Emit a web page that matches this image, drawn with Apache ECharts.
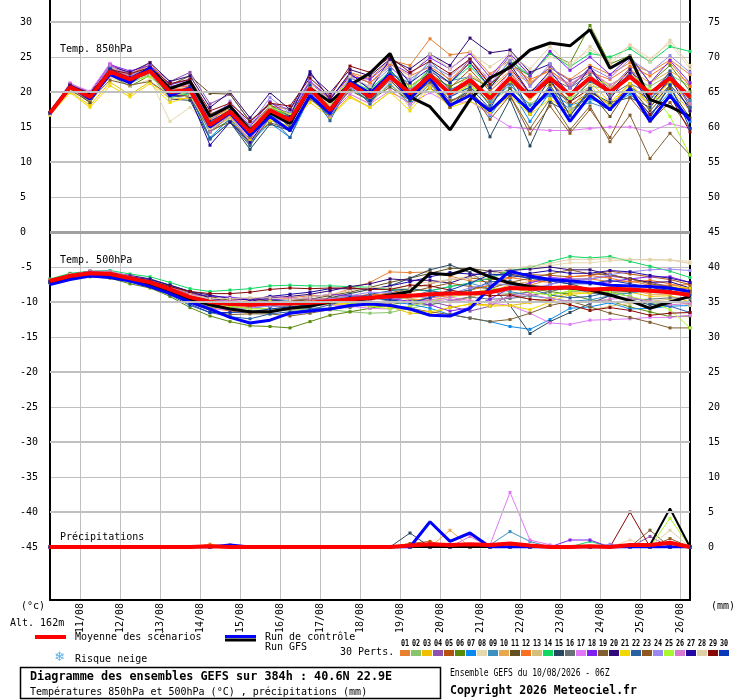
<!DOCTYPE html>
<html>
<head>
<meta charset="utf-8">
<title>Diagramme des ensembles GEFS</title>
<script src="https://cdn.jsdelivr.net/npm/echarts@6/dist/echarts.min.js"></script>
<style>
html, body { margin: 0; padding: 0; background: #fff; }
#chart { width: 740px; height: 700px; }
</style>
</head>
<body>
<div id="chart"></div>
<script>
// run du 10/08/2026 06Z, echeances toutes les 12h jusqu'a 384h
var leadHours = [0,12,24,36,48,60,72,84,96,108,120,132,144,156,168,180,192,204,216,228,240,252,264,276,288,300,312,324,336,348,360,372,384];

var memberColors = ['#e8802f','#88c46a','#f0c000','#8e50aa','#b4520e','#5a8a0a','#0a8af0','#e8d8b0','#3c90c0','#e8a850',
                    '#645020','#f87020','#d4c078','#10d860','#284860','#687078','#e078f8','#8020f0','#806030','#300878',
                    '#f0d800','#2860a0','#905820','#9888f0','#a8f830','#d878d0','#2008a0','#e0d0a8','#880808','#0838b8'];
var memberLabels = ['01','02','03','04','05','06','07','08','09','10','11','12','13','14','15',
                    '16','17','18','19','20','21','22','23','24','25','26','27','28','29','30'];

// Temp. 850hPa (degC)
var t850Mean = [17.0,20.7,19.3,22.9,21.8,23.0,20.0,20.3,15.3,17.2,14.3,17.4,16.0,20.5,17.4,21.2,19.3,22.2,19.8,22.4,19.8,21.7,19.1,22.0,19.3,22.0,19.6,22.0,20.0,22.2,19.8,22.0,19.3];
var t850Control = [17.0,20.8,19.0,22.5,21.3,23.5,19.5,20.5,15.0,17.0,13.8,16.5,14.5,19.5,17.0,21.5,19.8,22.5,19.0,22.0,18.1,19.5,17.3,20.0,17.3,20.3,15.8,19.5,17.5,20.5,15.8,19.5,15.9];
var t850Gfs = [17.0,20.7,19.5,22.8,21.5,23.4,20.5,21.5,16.5,18.0,14.5,17.0,15.5,20.5,18.6,21.0,22.7,25.5,19.3,17.9,14.6,18.9,22.0,23.5,26.0,27.0,26.6,28.9,23.4,25.0,18.9,17.9,16.5];
var t850Members = [
  [17.0,21.0,19.5,23.4,22.2,23.6,20.5,20.6,16.1,17.7,15.2,18.0,17.5,21.3,18.9,22.8,21.9,24.6,23.8,27.6,25.3,25.7,22.6,24.5,21.3,23.5,21.8,23.8,22.5,24.2,22.8,24.6,22.5],
  [17.0,20.4,18.8,22.7,21.2,22.6,19.2,19.8,15.0,16.6,14.5,17.0,16.5,20.0,17.7,20.4,18.8,21.0,19.0,21.9,18.3,20.7,18.6,20.5,18.3,20.0,19.1,20.8,20.5,22.2,20.8,22.5,20.8],
  [16.8,20.1,18.1,21.4,19.6,21.5,19.0,19.1,14.8,16.2,12.8,16.2,15.0,19.0,16.6,19.4,17.8,20.0,18.5,21.4,19.3,21.1,18.5,21.5,19.0,21.2,18.6,21.5,18.5,21.2,18.0,20.5,17.3],
  [17.0,21.2,19.9,23.9,22.6,23.8,21.5,22.8,18.3,19.7,15.8,18.4,17.5,21.5,19.0,22.4,21.3,23.7,20.8,22.9,21.3,24.7,21.6,25.2,21.1,23.5,21.6,23.0,20.5,23.4,19.8,22.8,18.8],
  [17.1,20.9,19.1,23.2,21.8,23.2,20.0,20.0,15.8,17.2,13.8,17.1,15.2,20.8,16.9,21.7,20.1,22.7,20.8,22.7,20.6,23.2,20.1,22.8,19.3,21.5,18.1,20.0,18.2,20.7,19.0,21.5,19.3],
  [17.0,20.5,18.5,22.4,20.8,22.4,19.5,19.3,14.3,16.0,12.5,16.4,14.5,19.7,16.4,20.7,19.8,22.5,19.3,22.4,20.8,22.2,20.6,24.0,22.3,25.5,24.1,29.5,24.0,25.2,21.3,23.8,20.1],
  [17.0,20.7,19.0,23.1,21.3,23.0,19.5,19.5,13.5,16.2,12.8,15.6,13.5,19.3,16.4,20.7,18.5,21.2,18.3,21.2,17.8,20.2,16.6,20.5,15.8,20.0,18.1,19.0,18.0,19.7,16.8,20.0,15.8],
  [16.7,20.2,18.8,22.1,20.8,21.8,15.8,17.8,14.8,16.2,13.8,16.8,16.0,20.0,17.9,22.0,20.8,24.0,21.8,23.9,22.3,24.0,22.1,24.8,22.8,25.0,24.1,26.0,24.5,26.7,24.8,27.0,23.3],
  [17.0,20.9,19.3,22.6,22.1,22.8,20.2,19.8,14.3,16.6,14.0,16.6,15.4,20.9,17.6,22.2,20.5,22.7,21.3,24.4,21.6,22.2,18.6,21.0,18.1,19.5,17.6,18.5,17.5,20.7,18.8,22.5,18.8],
  [17.0,21.1,19.6,23.5,22.3,23.9,20.6,21.1,15.5,17.7,14.8,17.6,16.8,21.0,18.4,21.4,19.3,21.7,18.8,21.6,19.8,22.5,20.6,23.0,21.3,23.2,20.6,23.5,20.5,23.2,21.3,23.0,21.3],
  [17.0,20.4,18.5,22.6,21.3,23.0,21.0,22.3,19.8,19.7,15.8,18.2,16.5,20.0,17.4,20.2,18.8,20.7,18.8,20.6,18.6,20.2,17.1,20.5,16.8,21.0,16.6,20.0,16.5,20.7,17.3,20.5,16.3],
  [17.1,21.0,19.7,23.1,22.4,24.2,20.8,20.8,15.8,18.0,14.6,17.9,16.2,20.5,18.0,22.7,21.3,24.0,22.3,23.6,21.8,24.2,21.1,23.8,21.8,23.0,21.1,22.8,21.8,23.7,22.3,24.2,20.8],
  [16.9,20.5,19.5,22.4,22.0,22.7,19.5,19.8,15.3,16.7,14.8,17.4,15.5,19.5,16.9,19.7,18.3,21.4,17.8,20.9,19.3,21.5,18.1,22.5,19.3,23.0,17.6,21.0,17.5,20.2,18.3,21.0,17.8],
  [17.0,20.9,19.0,22.9,21.5,22.5,19.2,19.8,14.3,16.7,14.3,17.7,16.5,20.5,17.9,21.5,20.3,23.0,20.3,23.4,21.3,23.7,20.6,24.5,22.3,25.5,23.6,25.5,25.0,26.2,24.3,26.5,25.8],
  [17.0,20.7,19.6,22.5,21.8,22.5,19.0,18.8,13.3,15.7,11.8,15.4,14.5,19.5,16.6,21.2,18.8,21.7,18.8,21.9,18.0,20.5,13.6,19.0,12.3,18.5,17.1,20.0,18.5,19.2,17.8,21.0,17.8],
  [17.0,20.8,19.3,23.2,21.6,23.4,20.3,20.3,14.8,17.2,15.1,17.9,17.0,21.0,17.4,21.7,19.6,22.2,20.3,22.1,19.8,21.2,19.6,21.2,20.1,22.0,20.6,22.5,19.5,21.2,19.8,21.5,19.8],
  [17.0,21.2,20.1,24.1,22.3,23.3,20.5,21.1,14.8,16.4,13.3,16.9,16.0,19.5,16.9,19.7,18.3,20.2,18.3,19.9,18.3,18.7,16.8,15.0,14.7,14.5,14.5,14.8,15.0,15.0,14.3,15.5,14.8],
  [17.0,21.0,19.8,23.9,23.0,23.8,21.0,21.8,16.8,18.2,15.1,18.6,16.5,21.5,19.2,22.2,21.8,24.2,22.6,24.9,23.3,25.5,22.1,25.5,22.3,25.8,23.1,25.0,22.5,25.0,21.3,24.5,21.3],
  [17.0,20.2,18.8,21.7,21.0,21.5,19.5,19.5,14.5,15.7,13.3,15.6,14.8,19.0,16.9,20.2,19.8,22.2,20.3,21.9,18.8,19.7,17.6,19.5,14.8,19.0,14.6,18.0,12.9,16.7,10.5,14.1,11.0],
  [17.0,21.1,19.8,23.7,22.8,24.2,21.5,22.3,17.8,20.0,16.3,19.9,17.5,22.5,19.9,23.2,22.3,24.7,23.3,25.4,23.8,27.7,25.6,26.0,22.8,24.0,20.6,23.5,20.0,23.2,19.3,22.5,18.3],
  [16.7,19.9,17.8,20.9,19.3,21.2,18.5,19.3,14.8,16.4,13.1,15.9,15.2,18.5,16.4,19.2,17.8,20.0,17.3,20.6,17.8,18.7,17.1,19.5,16.8,19.0,17.1,20.5,18.0,21.2,18.3,21.5,18.3],
  [17.0,20.9,19.7,23.4,22.0,23.6,20.0,19.8,13.3,15.7,12.3,16.4,13.5,20.0,15.9,21.2,18.3,22.7,19.3,23.4,20.3,21.7,18.1,21.5,17.3,20.5,18.6,21.5,20.0,22.7,18.8,23.0,17.8],
  [17.0,20.7,19.0,22.9,21.5,22.8,20.5,21.3,16.8,18.0,14.8,17.4,16.3,20.0,17.7,20.9,19.8,22.2,19.3,21.4,17.8,20.2,16.1,19.5,14.0,18.0,14.1,17.5,13.5,19.2,15.8,18.5,14.8],
  [17.0,21.2,19.6,23.7,22.4,23.4,20.8,21.3,15.8,18.7,15.3,19.2,17.0,21.7,18.4,22.0,20.8,23.4,21.8,23.9,22.3,24.7,21.1,24.5,20.8,24.0,20.6,23.5,22.0,24.7,22.8,25.2,22.8],
  [17.0,20.5,19.3,22.4,21.6,22.2,19.5,20.0,15.1,17.7,14.3,17.9,16.8,20.5,18.4,21.7,20.1,22.2,20.8,22.9,19.8,20.7,19.6,21.5,19.3,22.5,19.1,22.0,21.0,22.7,20.3,16.5,11.0],
  [17.0,21.3,19.7,23.9,22.1,23.5,20.2,20.3,14.3,16.7,12.8,16.4,15.5,20.2,16.6,20.7,19.3,21.7,20.3,22.4,19.3,22.2,19.1,23.0,19.8,22.5,21.1,23.0,21.0,22.7,19.3,22.0,18.3],
  [17.0,21.0,19.8,23.1,22.1,23.5,19.5,19.3,12.4,15.7,12.8,16.9,16.5,22.9,18.9,22.7,20.3,24.7,21.3,23.4,21.3,24.2,20.6,24.0,19.8,23.0,19.6,23.5,19.0,22.7,18.3,22.0,17.3],
  [16.8,20.3,19.0,22.3,21.6,22.5,19.0,19.5,14.8,17.2,13.8,17.7,15.5,21.0,18.2,22.2,20.8,24.2,22.3,25.4,23.3,25.7,23.6,25.5,23.3,26.5,23.6,26.5,24.0,26.7,24.3,27.4,23.8],
  [17.0,20.9,19.8,23.2,22.6,23.5,21.2,21.8,17.3,18.4,15.8,18.4,18.0,22.0,19.4,23.7,22.8,25.0,22.8,24.4,22.6,24.7,21.1,23.5,19.8,21.5,18.6,20.5,17.5,20.2,16.8,19.5,14.3],
  [17.0,20.8,19.1,23.3,21.8,23.3,19.7,20.8,15.8,17.4,13.8,17.4,15.0,21.0,16.9,21.7,18.8,23.2,19.8,22.9,19.3,20.7,17.6,22.5,17.3,22.0,16.6,20.5,17.5,20.2,16.3,21.0,14.8]
];

// Temp. 500hPa (degC)
var t500Mean = [-7.0,-6.3,-5.9,-6.0,-6.6,-7.2,-8.2,-9.3,-10.0,-10.3,-10.4,-10.2,-10.2,-10.1,-9.9,-9.6,-9.4,-9.2,-9.1,-8.9,-8.8,-8.8,-8.6,-8.0,-8.1,-8.0,-7.9,-8.2,-8.1,-8.2,-8.4,-8.6,-9.0];
var t500Control = [-7.5,-6.8,-6.3,-6.5,-7.0,-7.8,-8.8,-10.0,-11.0,-12.2,-13.0,-12.6,-11.6,-11.3,-11.0,-10.5,-10.3,-10.5,-11.0,-11.9,-12.0,-10.9,-8.0,-5.6,-6.3,-6.8,-7.0,-7.2,-7.6,-7.7,-7.8,-8.0,-8.5];
var t500Gfs = [-7.2,-6.5,-6.0,-6.2,-6.8,-7.5,-8.6,-9.6,-10.4,-11.0,-11.4,-11.4,-10.9,-10.6,-10.0,-9.8,-9.5,-9.0,-8.5,-5.9,-6.1,-5.2,-6.4,-7.3,-7.8,-8.0,-8.0,-8.3,-9.0,-9.8,-10.9,-10.0,-9.2];
var t500Members = [
  [-6.8,-6.2,-5.9,-5.8,-6.3,-7.0,-7.8,-8.8,-9.7,-9.7,-9.6,-9.7,-9.4,-9.1,-9.1,-8.1,-7.2,-5.7,-5.8,-5.7,-6.3,-7.0,-7.1,-7.2,-7.6,-6.8,-6.9,-6.7,-7.1,-7.0,-7.6,-7.6,-7.5],
  [-7.2,-6.6,-6.1,-6.4,-6.9,-7.7,-8.8,-9.7,-10.8,-10.8,-10.7,-11.0,-11.2,-11.0,-11.1,-11.4,-11.6,-11.5,-10.9,-10.4,-9.8,-9.3,-8.6,-8.8,-8.6,-9.0,-8.5,-8.4,-8.9,-8.7,-8.2,-8.9,-8.5],
  [-7.0,-6.1,-5.6,-5.9,-6.4,-6.8,-7.7,-9.0,-9.4,-9.8,-10.2,-10.2,-10.5,-10.1,-10.4,-10.4,-10.6,-10.7,-11.6,-11.7,-10.8,-10.3,-10.4,-10.5,-10.1,-9.5,-8.7,-8.7,-8.1,-8.6,-9.2,-9.1,-10.0],
  [-6.9,-6.3,-6.1,-6.0,-6.5,-7.4,-8.5,-9.8,-10.3,-10.9,-10.8,-10.2,-9.9,-9.6,-9.7,-9.6,-8.9,-8.9,-9.6,-9.9,-10.6,-11.3,-10.6,-9.0,-8.6,-7.5,-6.7,-6.7,-6.3,-6.7,-7.2,-7.8,-8.5],
  [-7.1,-6.2,-5.7,-6.0,-6.8,-7.2,-8.0,-9.3,-9.7,-10.1,-9.9,-9.8,-9.6,-9.8,-9.4,-9.2,-9.2,-8.7,-8.1,-7.4,-6.8,-6.6,-6.8,-6.5,-6.1,-6.2,-6.4,-6.2,-5.6,-6.0,-6.4,-6.8,-7.5],
  [-7.3,-6.7,-6.4,-6.6,-7.4,-8.0,-9.2,-10.8,-12.0,-12.8,-13.4,-13.5,-13.7,-12.8,-11.9,-11.4,-10.9,-10.4,-9.9,-9.4,-8.8,-8.3,-7.6,-7.5,-8.1,-8.5,-8.9,-9.7,-9.9,-10.7,-11.4,-12.1,-12.0],
  [-7.0,-6.4,-5.9,-6.2,-7.0,-7.8,-8.7,-9.6,-10.6,-11.1,-10.9,-10.5,-10.8,-10.9,-10.9,-10.4,-9.9,-10.0,-10.3,-10.9,-11.8,-12.3,-12.8,-13.5,-13.9,-12.5,-10.9,-10.7,-10.1,-11.0,-10.9,-10.6,-10.5],
  [-6.8,-6.0,-5.8,-5.7,-6.4,-6.8,-7.9,-8.7,-9.5,-9.5,-9.4,-9.4,-9.7,-9.9,-9.4,-8.8,-8.2,-8.2,-7.6,-7.1,-6.8,-6.3,-6.4,-5.5,-5.1,-4.8,-4.4,-4.4,-4.1,-4.0,-3.9,-4.0,-4.2],
  [-7.0,-6.1,-5.9,-5.8,-6.6,-7.5,-8.4,-9.1,-9.5,-10.0,-10.4,-9.7,-9.9,-9.5,-9.7,-9.1,-9.4,-9.7,-9.3,-8.4,-7.8,-7.3,-8.1,-8.5,-9.1,-9.5,-9.9,-9.7,-9.1,-8.7,-8.4,-8.1,-8.8],
  [-6.9,-6.3,-5.8,-6.1,-6.6,-7.0,-8.2,-9.5,-10.0,-10.0,-9.8,-9.9,-10.2,-10.4,-10.4,-9.8,-9.1,-9.2,-9.6,-9.7,-10.0,-9.3,-8.6,-7.5,-7.1,-6.7,-7.1,-7.2,-7.6,-8.2,-8.9,-8.9,-8.8],
  [-7.2,-6.5,-6.2,-6.2,-6.6,-7.0,-7.8,-8.7,-9.2,-9.8,-10.1,-10.2,-10.0,-9.6,-9.1,-8.6,-7.9,-7.2,-6.6,-5.9,-5.2,-5.2,-5.6,-6.0,-6.6,-7.0,-7.4,-8.2,-8.6,-8.5,-8.4,-8.1,-8.0],
  [-7.0,-6.2,-5.7,-5.7,-6.5,-7.2,-8.4,-9.8,-10.8,-11.3,-11.6,-11.0,-10.7,-10.3,-9.9,-9.3,-8.9,-9.0,-9.1,-9.4,-9.1,-8.3,-7.6,-6.5,-6.9,-7.2,-6.4,-6.2,-6.6,-7.2,-6.9,-7.4,-8.2],
  [-7.1,-6.5,-5.9,-5.9,-6.4,-7.1,-8.2,-9.1,-10.0,-10.5,-10.9,-11.0,-11.2,-10.7,-10.2,-10.1,-10.2,-10.2,-9.6,-8.9,-8.3,-8.8,-9.1,-9.0,-9.6,-10.0,-10.4,-11.2,-10.6,-10.2,-9.9,-9.6,-10.5],
  [-6.7,-5.9,-5.6,-5.5,-6.0,-6.4,-7.2,-8.1,-8.5,-8.3,-8.1,-7.7,-7.6,-7.7,-7.7,-7.8,-7.9,-8.2,-8.3,-8.4,-7.8,-7.3,-6.6,-5.5,-5.1,-4.2,-3.5,-3.7,-3.5,-4.2,-4.9,-5.6,-6.5],
  [-7.0,-6.4,-6.1,-6.0,-6.7,-7.2,-8.0,-9.3,-10.3,-10.3,-10.1,-9.7,-10.0,-10.1,-9.4,-8.8,-8.2,-7.7,-6.6,-5.4,-4.7,-5.8,-7.6,-10.5,-14.5,-12.8,-11.5,-10.2,-9.1,-9.7,-10.4,-10.1,-10.0],
  [-6.9,-6.1,-5.8,-6.0,-6.7,-7.1,-7.9,-9.1,-9.5,-10.0,-10.4,-10.5,-10.7,-10.9,-10.9,-10.8,-10.2,-9.7,-10.1,-10.4,-9.8,-9.3,-9.6,-9.5,-9.1,-8.5,-7.9,-8.7,-9.1,-9.7,-9.6,-9.4,-9.5],
  [-6.8,-6.3,-6.0,-6.3,-6.8,-7.6,-8.7,-10.1,-11.0,-11.1,-10.9,-10.4,-10.2,-10.4,-10.4,-10.6,-10.9,-11.0,-10.6,-9.9,-9.6,-10.0,-10.1,-10.5,-11.6,-13.0,-13.2,-12.6,-12.5,-12.4,-12.2,-12.2,-11.9],
  [-7.1,-6.3,-5.8,-5.8,-6.6,-7.0,-8.1,-8.9,-9.2,-9.3,-9.6,-9.6,-9.7,-9.3,-8.9,-9.1,-9.2,-9.5,-9.9,-10.4,-11.3,-10.8,-9.6,-8.0,-7.3,-6.5,-6.7,-7.4,-7.1,-6.7,-6.4,-6.4,-7.2],
  [-7.0,-6.2,-5.7,-5.9,-6.6,-7.4,-8.7,-10.1,-11.2,-11.8,-11.7,-11.7,-12.0,-11.6,-11.1,-10.6,-10.2,-10.4,-10.9,-11.4,-11.8,-12.3,-12.8,-12.5,-11.6,-10.5,-9.9,-10.7,-11.6,-12.2,-12.9,-13.7,-13.7],
  [-6.9,-6.1,-5.6,-5.8,-6.2,-6.7,-7.6,-8.5,-9.4,-10.0,-9.9,-9.4,-9.2,-8.9,-8.4,-7.8,-7.4,-6.7,-6.9,-6.9,-7.3,-6.3,-5.6,-5.5,-5.3,-5.0,-5.4,-5.4,-6.1,-6.7,-7.2,-7.1,-8.0],
  [-7.0,-6.5,-6.2,-6.2,-6.7,-7.2,-8.4,-9.6,-10.5,-10.6,-10.4,-9.9,-10.2,-10.3,-10.3,-10.2,-10.4,-10.7,-11.1,-11.4,-10.8,-10.3,-10.6,-10.5,-11.1,-10.0,-8.9,-8.7,-8.1,-7.7,-7.9,-7.8,-8.0],
  [-7.2,-6.6,-6.1,-6.1,-6.9,-7.7,-9.0,-10.5,-11.5,-12.1,-12.4,-11.7,-11.4,-11.1,-10.4,-9.6,-8.9,-8.4,-8.1,-8.4,-8.8,-8.3,-7.1,-7.0,-8.1,-9.0,-9.4,-9.2,-8.6,-9.2,-10.2,-10.6,-11.5],
  [-6.8,-6.0,-5.7,-6.0,-6.5,-7.2,-8.0,-8.9,-9.8,-10.3,-10.6,-10.2,-9.9,-9.6,-9.7,-9.6,-9.7,-9.2,-8.6,-7.9,-7.3,-7.8,-8.1,-7.2,-6.6,-6.0,-5.4,-6.0,-6.1,-6.7,-7.4,-7.8,-8.5],
  [-7.0,-6.3,-6.0,-5.9,-6.4,-6.9,-8.2,-9.5,-10.0,-10.1,-10.4,-10.7,-10.5,-10.1,-9.6,-9.1,-8.6,-8.7,-9.1,-9.4,-8.8,-8.0,-7.4,-7.5,-8.1,-7.5,-6.9,-6.7,-6.1,-5.7,-5.4,-5.3,-5.5],
  [-6.9,-6.3,-5.8,-5.8,-6.6,-7.3,-8.5,-9.5,-10.0,-10.6,-11.0,-11.0,-10.7,-10.3,-9.9,-10.1,-10.6,-11.0,-10.6,-9.9,-9.3,-8.8,-8.1,-8.0,-8.6,-9.0,-8.4,-8.2,-8.6,-9.2,-9.9,-11.1,-13.7],
  [-7.0,-6.1,-5.6,-5.6,-6.3,-7.1,-7.9,-8.8,-9.7,-9.8,-9.6,-9.2,-9.4,-9.6,-9.6,-9.6,-9.9,-10.0,-10.1,-9.7,-9.3,-9.8,-10.1,-9.2,-8.9,-9.5,-9.9,-10.0,-9.6,-9.4,-9.9,-10.4,-10.2],
  [-7.1,-6.5,-6.0,-6.0,-6.4,-6.8,-7.6,-8.5,-9.0,-9.5,-9.7,-9.2,-8.9,-8.6,-8.1,-8.1,-8.2,-7.7,-7.1,-6.4,-5.8,-6.0,-6.1,-6.0,-5.9,-5.5,-5.9,-5.9,-5.5,-5.7,-6.2,-6.6,-7.2],
  [-6.9,-6.1,-5.8,-6.0,-6.8,-7.3,-8.1,-9.0,-9.5,-9.5,-9.4,-9.4,-9.7,-9.3,-8.9,-8.4,-7.9,-8.0,-8.1,-7.4,-6.8,-6.6,-6.1,-5.2,-4.9,-4.5,-3.9,-3.9,-3.8,-3.9,-4.0,-4.0,-4.5],
  [-7.0,-6.2,-5.9,-5.9,-6.6,-7.0,-7.8,-8.5,-8.8,-8.8,-8.6,-8.2,-8.0,-8.1,-8.0,-8.0,-8.2,-8.2,-7.6,-7.7,-8.3,-8.8,-9.1,-9.0,-9.6,-9.8,-10.4,-11.2,-10.8,-11.2,-11.9,-11.6,-11.5],
  [-7.1,-6.3,-5.8,-6.0,-6.8,-7.5,-8.8,-10.3,-11.5,-11.5,-11.4,-11.0,-10.7,-10.4,-9.9,-9.3,-9.4,-9.7,-10.1,-9.4,-8.3,-7.3,-6.1,-6.2,-6.6,-7.0,-7.4,-7.4,-6.9,-7.4,-7.9,-8.4,-9.0]
];

// Precipitations (mm)
var precipMean = [0,0,0,0,0,0,0,0,0.1,0,0, 0,0,0,0,0,0,0,0.2,0.4,0.3,0.4, 0.3,0.5,0.2,0,0,0.1,0,0.3,0.3,0.6,0];
var precipControl = [0,0,0,0,0,0,0,0,0,0.3,0, 0,0,0,0,0,0,0,0,3.6,0.8,2.0, 0,0,0,0,0,0,0,0,0,0,0];
var precipGfs = [0,0,0,0,0,0,0,0,0,0,0, 0,0,0,0,0,0,0,0,0,0,0, 0,0,0,0,0,0,0,0,0.3,5.5,0];
var precipMembers = [
  [0,0,0,0,0,0,0,0,0.4,0,0, 0,0,0,0,0,0,0,0,0,0,0, 0,0,0,0,0,0,0,0,0,0,0],
  [0,0,0,0,0,0,0,0,0,0,0, 0,0,0,0,0,0,0,0,0,0,0, 0,0,0,0,0,0,0,0,0,0,0],
  [0,0,0,0,0,0,0,0,0,0,0, 0,0,0,0,0,0,0,0,0,0,0, 0,0,0,0,0,0,0,0,0,0,0],
  [0,0,0,0,0,0,0,0,0,0,0, 0,0,0,0,0,0,0,0,0,0,0, 0,0,0,0,0,0,0,0,1.5,0,0],
  [0,0,0,0,0,0,0,0,0,0,0, 0,0,0,0,0,0,0,0.5,0.8,0,0, 0,0,0,0,0,0,0,0,0,0,0],
  [0,0,0,0,0,0,0,0,0,0,0, 0,0,0,0,0,0,0,0,0,0,0, 0,0,0,0,0,0,0,0,0,0,0],
  [0,0,0,0,0,0,0,0,0,0,0, 0,0,0,0,0,0,0,0,0,0,0, 0,0,0,0,0,0,0,0,0,0,0],
  [0,0,0,0,0,0,0,0,0,0,0, 0,0,0,0,0,0,0,0,0,0,0, 0,0,0,0,0,0,0,1.0,0,0,0],
  [0,0,0,0,0,0,0,0,0,0,0, 0,0,0,0,0,0,0,0,0,0,0, 0.3,2.2,0.8,0,0,0,0,0,0,0,0],
  [0,0,0,0,0,0,0,0,0,0,0, 0,0,0,0,0,0,0,0,0,2.4,0, 0,0,0,0,0,0,0,0,0,0,0],
  [0,0,0,0,0,0,0,0,0,0,0, 0,0,0,0,0,0,0,0,0,0,0, 0,0,0,0,0,0,0,0,0,0,0],
  [0,0,0,0,0,0,0,0,0,0.3,0, 0,0,0,0,0,0,0,0,0,0,0, 0,0,0,0,0,0,0,0,0,0,0],
  [0,0,0,0,0,0,0,0,0,0,0, 0,0,0,0,0,0,0,0,0,0,0, 0,0,0,0,0,0,0,0,0,0,0],
  [0,0,0,0,0,0,0,0,0,0,0, 0,0,0,0,0,0,0,0,0,0,0, 0,0,0,0,0,0.8,0,0,0,0,0],
  [0,0,0,0,0,0,0,0,0,0,0, 0,0,0,0,0,0,0,2.0,0,0,0, 0,0,0,0,0,0,0,0,0,0,0],
  [0,0,0,0,0,0,0,0,0,0,0, 0,0,0,0,0,0,0,0,0,0,0, 0,0,0,0,0,0,0,0,0,0,0],
  [0,0,0,0,0,0,0,0,0,0,0, 0,0,0,0,0,0,0,0,0,0,0, 0.3,7.8,1.0,0.3,0,0,0,0,0,0,0],
  [0,0,0,0,0,0,0,0,0,0,0, 0,0,0,0,0,0,0,0,0,0,0, 0,0,0,0,1.0,1.0,0,0,0,0,0],
  [0,0,0,0,0,0,0,0,0,0,0, 0,0,0,0,0,0,0,0,0,0,0, 0,0,0,0,0,0,0,0,2.4,0,0],
  [0,0,0,0,0,0,0,0,0,0,0, 0,0,0,0,0,0,0,0,0,0,0, 0,0,0,0,0,0,0,0,0,0,0],
  [0,0,0,0,0,0,0,0,0,0,0, 0,0,0,0,0,0,0,0,0,0,0, 0,0,0,0,0,0,0,0,0,0,0],
  [0,0,0,0,0,0,0,0,0,0,0, 0,0,0,0,0,0,0,0,0.4,0,0, 0,0,0,0,0,0,0,0,0,0,0],
  [0,0,0,0,0,0,0,0,0,0,0, 0,0,0,0,0,0,0,0,0,0,0, 0,0,0,0,0,0,0,0,0,1.2,0],
  [0,0,0,0,0,0,0,0,0,0,0, 0,0,0,0,0,0,0,0,0,0,0, 0,0,0,0,0,0,0.4,0,0,0,0],
  [0,0,0,0,0,0,0,0,0,0,0, 0,0,0,0,0,0,0,0,0,0,0, 0,0,0,0,0,0,0,0,0,4.1,0],
  [0,0,0,0,0,0,0,0,0,0,0, 0,0,0,0,0,0,0,0,0,0,1.5, 0,0,0,0,0,0,0,0,0,0,0],
  [0,0,0,0,0,0,0,0,0,0,0, 0,0,0,0,0,0,0,0,0,0,0, 0,0,0,0,0,0,0,0,0,0,0],
  [0,0,0,0,0,0,0,0,0,0,0, 0,0,0,0,0,0,0,0,0,0,0, 0,0,0,0,0,0,0,0,0,2.4,0],
  [0,0,0,0,0,0,0,0,0,0,0, 0,0,0,0,0,0,0,0,0,0,0, 0,0,0,0,0,0,0,5.0,0,0,0],
  [0,0,0,0,0,0,0,0,0,0,0, 0,0,0,0,0,0,0,0,0,0,0.3, 0,0,0,0,0,0,0,0,0,0,0]
];

// graduations renforcees (tous les 10 degres)
var majorTicks = [30, 20, 10, -10, -20, -30, -40];

(function () {
    var MONO = '"DejaVu Sans Mono", monospace';
    var HOUR = 3600000;
    var DAY = 24 * HOUR;
    var runStart = Date.UTC(2026, 7, 10, 6);
    var runEnd = runStart + leadHours[leadHours.length - 1] * HOUR;

    function pairs(values) {
        return values.map(function (v, k) { return [runStart + leadHours[k] * HOUR, v]; });
    }

    function line(name, values, color, width, yIdx, z, marks) {
        return {
            name: name, type: 'line', xAxisIndex: 1, yAxisIndex: yIdx,
            data: pairs(values), z: z, silent: true,
            showSymbol: marks, symbol: 'rect', symbolSize: 3,
            itemStyle: { color: color },
            lineStyle: { color: color, width: width },
            emphasis: { disabled: true }
        };
    }

    var series = [{
        type: 'line', xAxisIndex: 1, yAxisIndex: 2, data: [], z: 1, silent: true,
        markLine: {
            silent: true, symbol: ['none', 'none'], label: { show: false },
            lineStyle: { color: '#c0c0c0', width: 2, type: 'solid' },
            data: majorTicks.map(function (v) { return { yAxis: v }; })
                .concat([{ yAxis: 0, lineStyle: { color: '#a0a0a0', width: 3, type: 'solid' } }])
        }
    }];

    var i;
    for (i = 0; i < t850Members.length; i++) {
        series.push(line('P' + memberLabels[i], t850Members[i], memberColors[i], 1, 2, 2, true));
        series.push(line('P' + memberLabels[i], t500Members[i], memberColors[i], 1, 2, 2, true));
        series.push(line('P' + memberLabels[i], precipMembers[i], memberColors[i], 1, 3, 2, true));
    }
    series.push(line('Run GFS', t850Gfs, '#000000', 3, 2, 3, false));
    series.push(line('Run GFS', t500Gfs, '#000000', 3, 2, 3, false));
    series.push(line('Run GFS', precipGfs, '#000000', 2, 3, 3, false));
    series.push(line('Run de controle', t850Control, '#0000ff', 3, 2, 3, false));
    series.push(line('Run de controle', t500Control, '#0000ff', 3, 2, 3, false));
    series.push(line('Run de controle', precipControl, '#0000ff', 3, 3, 3, false));
    series.push(line('Moyenne', t850Mean, '#ff0000', 4, 2, 4, false));
    series.push(line('Moyenne', t500Mean, '#ff0000', 4, 2, 4, false));
    series.push(line('Moyenne', precipMean, '#ff0000', 4, 3, 4, false));

    function txt(x, y, s, size, extra) {
        var st = { x: x, y: y, text: s, fill: '#000', font: size + 'px ' + MONO, align: 'left', verticalAlign: 'middle' };
        for (var k in extra || {}) st[k] = extra[k];
        return { type: 'text', silent: true, z: 10, style: st };
    }

    var graphic = [
        txt(60, 49, 'Temp. 850hPa', 10),
        txt(60, 260, 'Temp. 500hPa', 10),
        txt(60, 537, 'Précipitations', 10),
        txt(21, 606, '(°c)', 10),
        txt(10, 623, 'Alt. 162m', 10),
        txt(711, 606, '(mm)', 10),
        { type: 'line', silent: true, shape: { x1: 35, y1: 637, x2: 66, y2: 637 }, style: { stroke: '#ff0000', lineWidth: 4 } },
        txt(75, 637, 'Moyenne des scénarios', 10),
        { type: 'line', silent: true, shape: { x1: 225, y1: 636.5, x2: 256, y2: 636.5 }, style: { stroke: '#0000ff', lineWidth: 3 } },
        { type: 'line', silent: true, shape: { x1: 225, y1: 640, x2: 256, y2: 640 }, style: { stroke: '#000000', lineWidth: 3 } },
        txt(265, 637, 'Run de contrôle', 10),
        txt(265, 647, 'Run GFS', 10),
        txt(54, 658, '\u2744', 13, { fill: '#5aaee8', font: '13px "DejaVu Sans"' }),
        txt(75, 659, 'Risque neige', 10),
        txt(340, 652, '30 Perts.', 10),
        { type: 'rect', silent: true, shape: { x: 20.5, y: 667.5, width: 420, height: 31 }, style: { fill: '#fff', stroke: '#000', lineWidth: 1.5 } },
        txt(30, 677, 'Diagramme des ensembles GEFS sur 384h : 40.6N 22.9E', 11.8, { font: 'bold 11.8px ' + MONO }),
        txt(30, 692, 'Températures 850hPa et 500hPa (°C) , précipitations (mm)', 10),
        { type: 'text', silent: true, x: 450, y: 673, scaleX: 0.73,
          style: { x: 0, y: 0, text: 'Ensemble GEFS du 10/08/2026 - 06Z', fill: '#000', font: '11px ' + MONO, verticalAlign: 'middle' } },
        txt(450, 691, 'Copyright 2026 Meteociel.fr', 11.5, { font: 'bold 11.5px ' + MONO })
    ];
    for (i = 0; i < memberColors.length; i++) {
        graphic.push({ type: 'rect', silent: true, shape: { x: 400 + 11 * i, y: 650, width: 10, height: 6 }, style: { fill: memberColors[i] } });
        graphic.push({ type: 'text', silent: true, x: 405 + 11 * i, y: 644, scaleX: 0.85,
            style: { x: 0, y: 0, text: memberLabels[i], fill: '#000', font: 'bold 8px ' + MONO, align: 'center', verticalAlign: 'middle' } });
    }

    var option = {
        useUTC: true,
        animation: false,
        backgroundColor: '#ffffff',
        grid: [
            { left: 50, top: 0, width: 640, height: 600 },
            { left: 50, top: 22, width: 640, height: 525 }
        ],
        xAxis: [{
            gridIndex: 0, type: 'time', min: runStart, max: runEnd,
            minInterval: DAY, maxInterval: DAY,
            axisLine: { show: true, onZero: false, lineStyle: { color: '#000', width: 2 } },
            axisTick: { show: false },
            axisLabel: {
                rotate: 90, interval: 0, margin: 3, formatter: '{dd}/{MM}',
                showMinLabel: false, showMaxLabel: false, hideOverlap: false,
                fontFamily: MONO, fontSize: 10, color: '#000'
            },
            splitLine: { show: true, lineStyle: { color: '#c0c0c0', width: 1 } }
        }, {
            gridIndex: 1, type: 'time', min: runStart, max: runEnd, show: false
        }],
        yAxis: [{
            gridIndex: 0, type: 'value', min: 0, max: 1, position: 'left',
            axisLine: { show: true, lineStyle: { color: '#000', width: 2 } },
            axisTick: { show: false }, axisLabel: { show: false }, splitLine: { show: false }
        }, {
            gridIndex: 0, type: 'value', min: 0, max: 1, position: 'right',
            axisLine: { show: true, lineStyle: { color: '#000', width: 2 } },
            axisTick: { show: false }, axisLabel: { show: false }, splitLine: { show: false }
        }, {
            gridIndex: 1, type: 'value', min: -45, max: 30, interval: 5, position: 'left',
            axisLine: { show: false }, axisTick: { show: false },
            axisLabel: { align: 'left', margin: 30, fontFamily: MONO, fontSize: 10, color: '#000' },
            splitLine: { show: true, lineStyle: { color: '#c0c0c0', width: 1 } }
        }, {
            gridIndex: 1, type: 'value', min: 0, max: 75, interval: 5, position: 'right',
            axisLine: { show: false }, axisTick: { show: false },
            axisLabel: { margin: 18, fontFamily: MONO, fontSize: 10, color: '#000' },
            splitLine: { show: false }
        }],
        series: series,
        graphic: graphic
    };

    var chart = echarts.init(document.getElementById('chart'));
    chart.setOption(option);
})();
</script>
</body>
</html>
